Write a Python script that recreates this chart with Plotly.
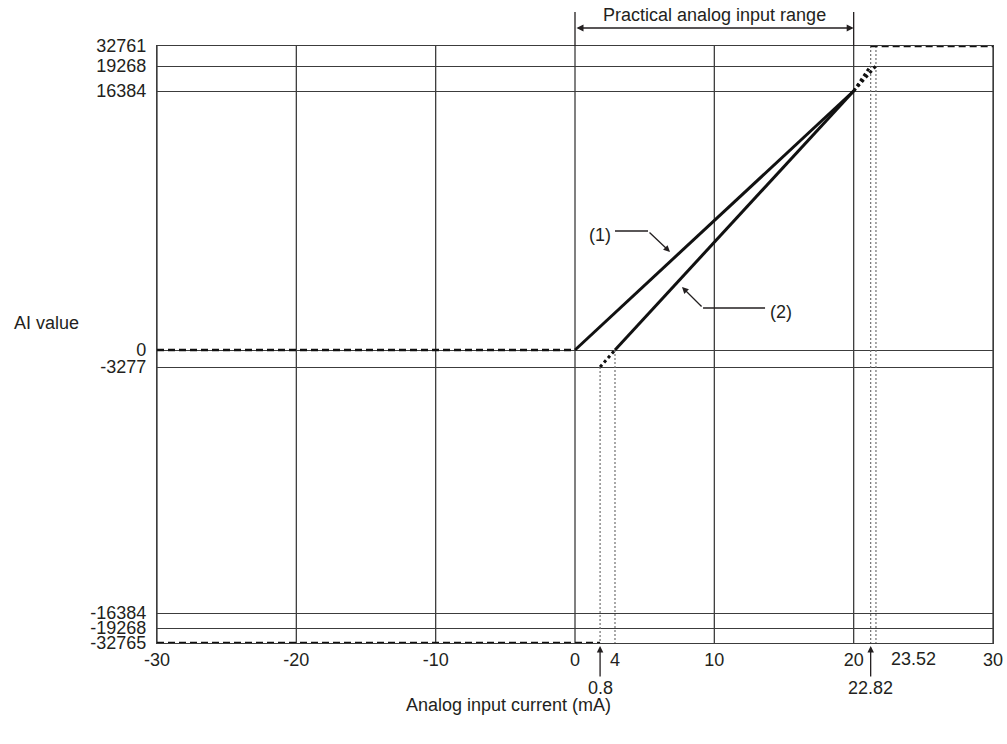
import numpy as np
import plotly.graph_objects as go

# ---- tick values -------------------------------------------------------
current_ticks = [-30, -20, -10, 0, 10, 20, 30]
ai_ticks = [32761, 19268, 16384, 0, -3277, -16384, -19268, -32765]

# ---- conversion characteristics (mA -> AI value) -----------------------
line1_current = [0, 20]
line1_value = [0, 16384]
line1_over_current = [20, 23.52]
line1_over_value = [16384, 19268]

line2_current = [4, 20]
line2_value = [0, 16384]
line2_under_current = [0.8, 4]
line2_under_value = [-3277, 0]
line2_over_current = [20, 22.82]
line2_over_value = [16384, 19268]

zero_clamp_current = [-30, 0]
zero_clamp_value = [0, 0]
neg_limit_current = [-30, 0.8]
neg_limit_value = [-32765, -32765]
pos_limit_current = [22.82, 30]
pos_limit_value = [32761, 32761]

# reference currents marked with dotted verticals: (current, upper AI value)
marker_current = [0.8, 4, 22.82, 23.52]
marker_top = [-3277, 0, 32761, 32761]

# ---- schematic (not-to-scale) axes -------------------------------------
X_BREAKS = ([-30, -20, -10, 0, 0.8, 4, 10, 20, 22.82, 23.52, 30],
            [-30, -20, -10, 0, 1.8, 2.87, 10, 20, 21.22, 21.6, 30])
Y_BREAKS = ([-32765, -19268, -16384, -3277, 0, 16384, 19268, 32761],
            [-293, -278, -263, -17, 0, 259, 284, 304])


def sx(v):
    return np.interp(v, *X_BREAKS)


def sy(v):
    return np.interp(v, *Y_BREAKS)


INK = "#231f20"
GRID = "#3c3c3c"
FONT = dict(family="Liberation Sans, Arial, sans-serif", size=18, color=INK)

fig = go.Figure()


def seg(xs, ys, width, dash="solid", color="#111111"):
    fig.add_trace(go.Scatter(
        x=sx(xs), y=sy(ys), mode="lines",
        line=dict(color=color, width=width, dash=dash),
        showlegend=False, hoverinfo="skip"))


# dotted reference verticals
for c, top in zip(marker_current, marker_top):
    seg([c, c], [top, -32765], 1.2, "2px,2px", "#707070")

# clamped regions
seg(zero_clamp_current, zero_clamp_value, 2.5, "7px,4px")
seg(neg_limit_current, neg_limit_value, 2.5, "7px,4px")
seg(pos_limit_current, pos_limit_value, 2.5, "7px,4px")

# out-of-range extensions
seg(line1_over_current, line1_over_value, 3, "3px,3px")
seg(line2_over_current, line2_over_value, 3, "3px,3px")
seg(line2_under_current, line2_under_value, 3, "3px,3px")

# characteristic lines
seg(line1_current, line1_value, 3)
seg(line2_current, line2_value, 3)

shapes = []
# vertical grid lines
for t in current_ticks:
    shapes.append(dict(type="line", xref="x", yref="paper", x0=sx(t), x1=sx(t),
                       y0=0, y1=1, line=dict(color=GRID, width=1.3), layer="below"))
# range brackets above the plot
for t in [0, 20]:
    shapes.append(dict(type="line", xref="x", yref="paper", x0=sx(t), x1=sx(t),
                       y0=1, y1=1.057, line=dict(color=INK, width=1.3)))
# leader lines for the (1)/(2) callouts
shapes.append(dict(type="line", xref="x", yref="y", x0=2.87, x1=5.24, y0=119, y1=119,
                   line=dict(color=INK, width=1.3)))
shapes.append(dict(type="line", xref="x", yref="y", x0=13.64, x1=9.19, y0=42, y1=42,
                   line=dict(color=INK, width=1.3)))

annotations = [
    # practical range double arrow
    dict(x=sx(20), y=1.0302, xref="x", yref="paper", ax=sx(0), ay=0,
         axref="x", ayref="pixel", text="", showarrow=True, arrowside="end+start",
         arrowhead=2, arrowsize=1, arrowwidth=1.4, arrowcolor=INK),
    dict(x=sx(10), y=1.052, xref="x", yref="paper", text="Practical analog input range",
         showarrow=False, font=FONT, yanchor="middle"),
    # callouts
    dict(x=1.79, y=115, xref="x", yref="y", text="(1)", showarrow=False, font=FONT),
    dict(x=6.82, y=98, xref="x", yref="y", ax=5.24, ay=119, axref="x", ayref="y",
         text="", showarrow=True, arrowhead=2, arrowsize=1, arrowwidth=1.3, arrowcolor=INK),
    dict(x=14.78, y=38, xref="x", yref="y", text="(2)", showarrow=False, font=FONT),
    dict(x=7.68, y=63, xref="x", yref="y", ax=9.19, ay=42, axref="x", ayref="y",
         text="", showarrow=True, arrowhead=2, arrowsize=1, arrowwidth=1.3, arrowcolor=INK),
    # extra current labels under the axis
    dict(x=sx(0.8), y=-0.005, xref="x", yref="paper", ax=0, ay=42, text="0.8",
         showarrow=True, arrowhead=2, arrowsize=1, arrowwidth=1.3, arrowcolor=INK, font=FONT),
    dict(x=sx(22.82), y=-0.005, xref="x", yref="paper", ax=0, ay=42, text="22.82",
         showarrow=True, arrowhead=2, arrowsize=1, arrowwidth=1.3, arrowcolor=INK, font=FONT),
    dict(x=24.26, y=-0.0268, xref="x", yref="paper", text="23.52", showarrow=False,
         font=FONT, yanchor="middle"),
    # axis titles
    dict(x=0.421, y=-0.104, xref="paper", yref="paper", text="Analog input current (mA)",
         showarrow=False, font=FONT, yanchor="middle"),
    dict(x=-0.1734, y=0.536, xref="paper", yref="paper", text="AI value",
         showarrow=False, font=FONT, xanchor="left", yanchor="middle"),
]

x_tickvals = list(sx(current_ticks)) + [float(sx(4))]
x_ticktext = [str(t) for t in current_ticks] + ["4"]

fig.update_layout(
    width=1007, height=744,
    margin=dict(l=157, r=14, t=46, b=101),
    paper_bgcolor="white", plot_bgcolor="white",
    font=FONT,
    xaxis=dict(range=[sx(-30), sx(30)], tickvals=x_tickvals, ticktext=x_ticktext,
               showgrid=False, zeroline=False, showline=True, mirror=True,
               linecolor=GRID, linewidth=1.3, ticks="", ticklabelstandoff=0,
               tickfont=FONT, automargin=False),
    yaxis=dict(range=[sy(-32765), sy(32761)], tickvals=list(sy(ai_ticks)),
               ticktext=[str(t) for t in ai_ticks], showgrid=True, gridcolor=GRID,
               gridwidth=1.3, zeroline=False, showline=True, mirror=True,
               linecolor=GRID, linewidth=1.3, ticks="", ticklabelstandoff=6,
               tickfont=FONT, automargin=False),
    shapes=shapes,
    annotations=annotations,
)

fig.write_html("out.html")
